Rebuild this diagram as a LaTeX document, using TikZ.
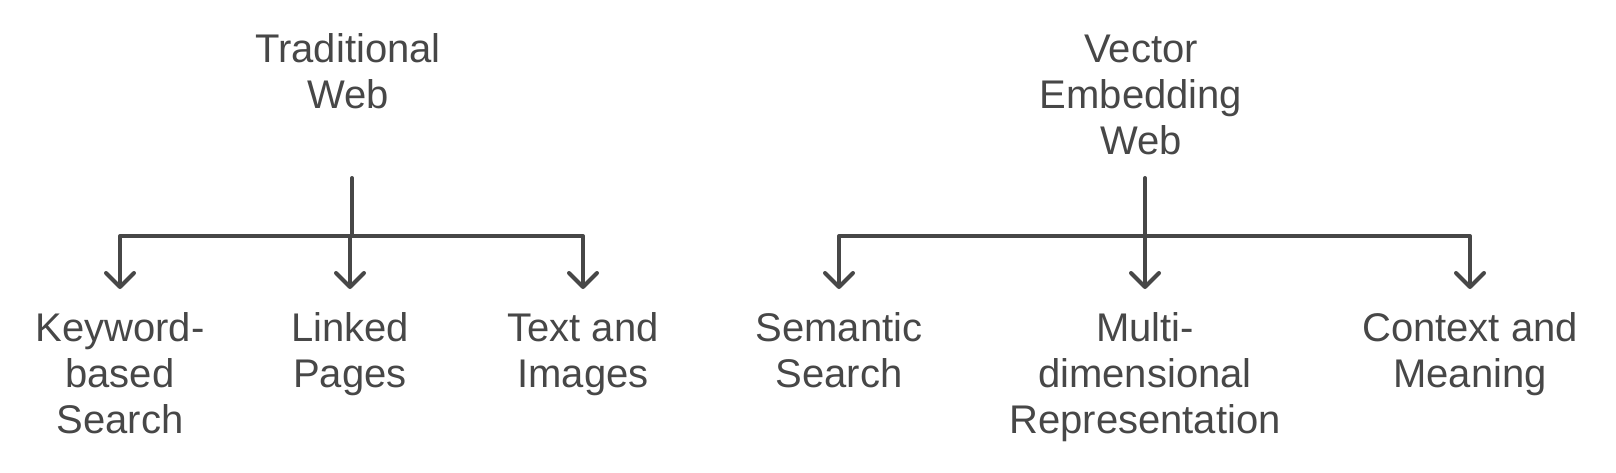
\documentclass[tikz,border=0pt]{standalone}
\usepackage{fontspec}
\setmainfont{Liberation Sans}
\usetikzlibrary{arrows.meta}
\definecolor{ink}{HTML}{474747}
\begin{document}
\begin{tikzpicture}[x=0.5pt,y=-0.5pt,
  txt/.style={anchor=north,inner sep=0pt,align=center,text=ink,font=\fontsize{20}{23}\selectfont},
  wire/.style={draw=ink,line width=2pt,line cap=round,line join=round},
  link/.style={wire,-{Straight Barb[length=7pt,width=14pt,round]}}]
  \useasboundingbox (0,0) rectangle (1616,472);
  \node[txt] (trad) at (348,33) {Traditional\\Web};
  \node[txt] (vec) at (1141,35) {Vector\\Embedding\\Web};
  \node[txt] (kw) at (120,312) {Keyword-\\based\\Search};
  \node[txt] (lp) at (350,312) {Linked\\Pages};
  \node[txt] (ti) at (583,312) {Text and\\Images};
  \node[txt] (ss) at (839,312) {Semantic\\Search};
  \node[txt] (md) at (1145,312) {Multi-\\dimensional\\Representation};
  \node[txt] (cm) at (1470,312) {Context and\\Meaning};
  \coordinate (s1) at (352,178);
  \coordinate (h1) at (352,236);
  \coordinate (s2) at (1145,178);
  \coordinate (h2) at (1145,236);
  \draw[wire] (s1) -- (h1);
  \draw[link] (h1) -| ([yshift=11.5pt]kw.north);
  \draw[link] (h1) -| ([yshift=11.5pt]lp.north);
  \draw[link] (h1) -| ([yshift=11.5pt]ti.north);
  \draw[wire] (s2) -- (h2);
  \draw[link] (h2) -| ([yshift=11.5pt]ss.north);
  \draw[link] (h2) -- ([yshift=11.5pt]md.north);
  \draw[link] (h2) -| ([yshift=11.5pt]cm.north);
\end{tikzpicture}
\end{document}
